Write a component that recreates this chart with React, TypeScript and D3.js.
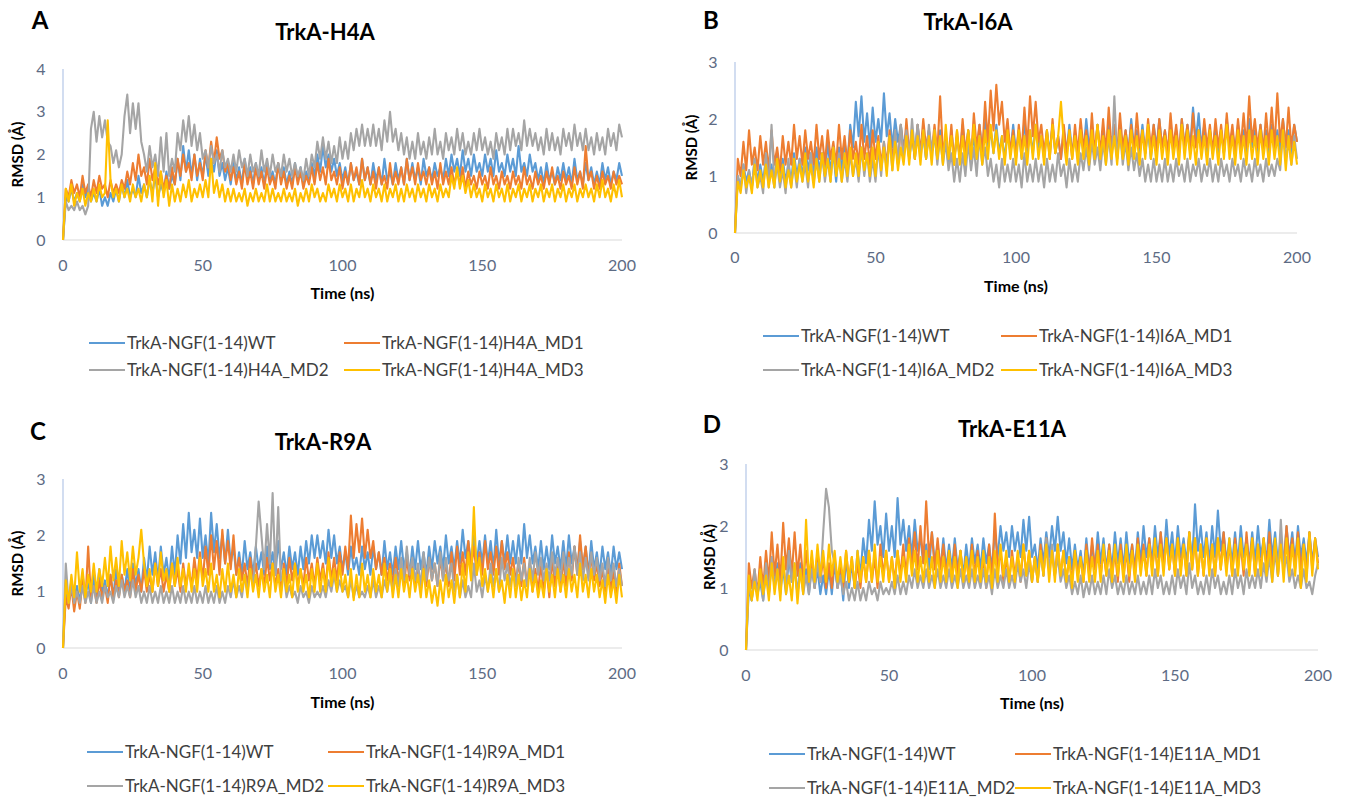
import React from "react";
import * as d3 from "d3";

// RMSD traces, one value per ns (0..200)
const TIME = d3.range(0, 201);
const X_TICKS = [0, 50, 100, 150, 200];
const SERIES_COLORS = ["#5B9BD5", "#ED7D31", "#A5A5A5", "#FFC000"];

// Panel A: TrkA-H4A
const A_WT = [0,
  1.0,0.9,1.2,0.9,1.1,0.9,1.3,1.0,1.2,0.9, 1.1,0.9,1.2,0.8,1.0,0.8,1.1,0.9,1.2,0.9,
  1.3,1.0,1.4,1.0,1.2,1.0,1.5,1.1,1.3,1.0, 1.4,1.1,1.5,1.0,1.3,1.1,1.6,1.2,1.5,1.3,
  1.9,1.4,2.2,1.6,2.1,1.5,2.0,1.4,1.9,1.5, 2.0,1.5,1.9,1.6,2.1,1.5,1.8,1.4,1.7,1.3,
  1.8,1.4,1.7,1.3,1.9,1.4,1.7,1.3,1.8,1.4, 1.7,1.3,1.8,1.4,1.6,1.3,1.8,1.4,1.7,1.3,
  1.6,1.3,1.8,1.4,1.7,1.3,1.6,1.4,1.8,1.5, 2.0,1.6,2.2,1.7,2.0,1.6,1.9,1.5,1.8,1.4,
  1.7,1.3,1.8,1.4,1.6,1.3,1.9,1.4,1.7,1.3, 1.8,1.4,1.7,1.3,1.9,1.4,1.6,1.3,1.8,1.4,
  1.7,1.3,1.9,1.4,1.8,1.4,1.7,1.3,1.9,1.5, 1.7,1.4,1.8,1.5,1.7,1.4,1.9,1.5,2.0,1.6,
  1.9,1.5,2.1,1.6,1.9,1.5,2.0,1.6,1.8,1.5, 2.0,1.6,1.9,1.5,2.1,1.6,1.8,1.5,2.0,1.6,
  1.9,1.5,2.2,1.6,1.8,1.5,2.0,1.6,1.8,1.4, 1.7,1.3,1.8,1.4,1.6,1.3,1.7,1.4,1.8,1.4,
  1.7,1.3,1.9,1.4,1.6,1.3,1.8,1.4,1.7,1.3, 1.6,1.3,1.8,1.4,1.7,1.3,1.6,1.4,1.8,1.5];
const A_MD1 = [0,
  1.2,1.0,1.4,1.1,1.3,1.0,1.5,1.1,1.3,1.0, 1.4,1.1,1.5,1.2,1.3,1.0,1.4,1.1,1.3,1.1,
  1.4,1.2,1.6,1.3,1.8,1.4,2.0,1.5,1.7,1.3, 1.9,1.4,1.7,1.3,1.6,1.2,1.5,1.2,1.7,1.3,
  1.9,1.5,2.0,1.6,1.8,1.4,2.0,1.5,1.8,1.4, 2.1,1.7,2.3,1.8,2.4,1.9,2.1,1.6,1.8,1.4,
  1.7,1.3,1.6,1.2,1.8,1.3,1.6,1.2,1.7,1.3, 1.6,1.2,1.7,1.3,1.5,1.2,1.8,1.3,1.6,1.2,
  1.5,1.2,1.7,1.3,1.6,1.2,1.5,1.3,1.7,1.3, 1.8,1.4,1.7,1.3,1.9,1.4,1.6,1.3,1.7,1.2,
  1.6,1.3,1.8,1.4,1.7,1.3,1.9,1.4,1.7,1.3, 1.6,1.2,1.7,1.3,1.5,1.2,1.8,1.3,1.6,1.3,
  1.7,1.3,1.9,1.4,1.7,1.3,1.8,1.4,1.6,1.3, 1.7,1.3,1.6,1.2,1.8,1.3,1.6,1.3,1.7,1.3,
  1.6,1.3,1.7,1.2,1.6,1.3,1.5,1.2,1.6,1.3, 1.5,1.2,1.7,1.3,1.5,1.2,1.6,1.3,1.5,1.2,
  1.6,1.3,1.5,1.2,1.7,1.3,1.5,1.2,1.6,1.3, 1.5,1.2,1.6,1.3,1.7,1.3,1.5,1.2,1.6,1.3,
  1.5,1.2,1.7,1.3,1.6,1.2,2.2,1.4,1.6,1.2, 1.5,1.2,1.6,1.3,1.5,1.2,1.6,1.3,1.5,1.3];
const A_MD2 = [0,
  0.9,0.7,0.8,0.7,0.9,0.7,0.8,0.6,0.8,2.6, 3.0,2.3,2.9,2.4,2.8,2.3,2.2,1.8,2.1,1.7,
  2.0,2.9,3.4,2.5,3.2,2.6,3.2,2.3,2.0,1.6, 2.2,1.7,2.0,1.5,2.4,1.6,2.5,1.5,1.9,1.6,
  2.5,2.1,2.8,2.3,2.9,2.2,2.7,2.1,2.5,1.9, 2.1,1.7,2.2,1.8,2.0,1.6,2.1,1.7,1.9,1.6,
  2.0,1.6,2.1,1.7,1.9,1.5,2.0,1.6,1.8,1.5, 2.1,1.6,1.9,1.5,2.0,1.6,1.8,1.5,2.0,1.6,
  1.9,1.5,1.8,1.5,1.7,1.4,1.9,1.5,2.0,1.7, 2.3,1.9,2.4,1.9,2.3,1.8,2.2,1.8,2.4,1.9,
  2.3,1.9,2.5,2.1,2.6,2.2,2.7,2.2,2.6,2.2, 2.7,2.2,2.6,2.1,2.8,2.3,3.0,2.3,2.6,2.1,
  2.5,2.0,2.4,1.9,2.3,1.9,2.5,2.0,2.3,1.9, 2.4,2.0,2.6,2.0,2.3,1.9,2.5,2.1,2.4,2.0,
  2.6,2.1,2.5,2.0,2.3,2.0,2.5,2.1,2.6,2.1, 2.4,2.0,2.3,1.9,2.5,2.1,2.4,2.0,2.6,2.1,
  2.6,2.2,2.5,2.1,2.8,2.2,2.6,2.2,2.5,2.1, 2.4,2.0,2.6,2.1,2.5,2.1,2.4,2.0,2.6,2.2,
  2.5,2.1,2.7,2.2,2.5,2.1,2.6,2.1,2.4,2.0, 2.5,2.1,2.4,2.0,2.6,2.2,2.5,2.1,2.7,2.4];
const A_MD3 = [0,
  1.2,0.9,1.3,0.8,1.1,0.9,1.2,0.8,1.1,0.9, 1.2,0.9,1.3,1.0,1.1,2.8,1.4,1.0,1.2,0.9,
  1.3,1.0,1.2,0.9,1.3,1.0,1.2,0.9,1.3,1.0, 1.5,0.9,1.8,0.8,1.6,1.0,1.4,0.8,1.3,0.9,
  1.2,0.9,1.3,1.0,1.4,0.9,1.2,1.0,1.3,1.0, 1.4,1.0,1.9,1.1,1.4,1.0,1.3,0.9,1.2,0.9,
  1.2,0.9,1.1,0.9,1.2,0.8,1.1,0.9,1.2,0.9, 1.1,0.9,1.3,0.9,1.2,0.9,1.1,0.9,1.2,0.9,
  1.1,0.9,1.2,0.8,1.1,0.9,1.2,0.9,1.3,1.0, 1.2,0.9,1.1,0.9,1.3,1.0,1.2,0.9,1.3,1.0,
  1.2,0.9,1.3,0.9,1.2,1.0,1.4,1.0,1.2,0.9, 1.3,1.0,1.2,0.9,1.3,0.9,1.2,1.0,1.3,0.9,
  1.2,0.9,1.3,1.0,1.2,0.9,1.3,1.0,1.2,0.9, 1.3,1.0,1.2,0.9,1.3,1.0,1.2,1.0,1.5,1.2,
  1.7,1.2,1.5,1.1,1.4,1.0,1.3,1.0,1.2,0.9, 1.3,1.0,1.2,0.9,1.3,1.0,1.2,0.9,1.3,0.9,
  1.2,1.0,1.3,0.9,1.2,1.0,1.3,0.9,1.2,1.0, 1.3,0.9,1.2,1.0,1.3,0.9,1.2,1.0,1.3,0.9,
  1.2,1.0,1.3,0.9,1.2,1.0,1.3,1.0,1.2,0.9, 1.3,1.0,1.4,1.0,1.2,0.9,1.3,1.0,1.4,1.0];

// Panel B: TrkA-I6A
const B_WT = [0,
  1.0,0.8,1.2,0.9,1.1,0.8,1.3,0.9,1.2,0.9, 1.3,0.9,1.2,0.8,1.4,1.0,1.3,0.9,1.2,0.9,
  1.4,1.0,1.3,1.0,1.5,1.1,1.4,1.0,1.5,1.1, 1.4,1.0,1.6,1.1,1.4,0.9,1.5,1.1,1.6,1.2,
  1.9,1.5,2.3,1.7,2.4,1.6,2.1,1.5,2.2,1.6, 2.0,1.6,2.45,1.7,2.1,1.5,2.0,1.6,1.9,1.5,
  1.8,1.3,1.7,1.3,1.9,1.4,1.7,1.3,1.8,1.4, 1.7,1.3,1.8,1.4,1.6,1.2,1.8,1.3,1.7,1.3,
  1.9,1.4,1.8,1.3,1.7,1.3,1.9,1.4,2.0,1.5, 1.8,1.4,1.9,1.4,1.7,1.3,1.8,1.4,1.9,1.4,
  1.8,1.3,2.0,1.4,1.8,1.4,1.9,1.5,1.7,1.3, 1.8,1.4,1.9,1.4,1.7,1.3,1.8,1.4,1.9,1.4,
  1.7,1.3,1.8,1.4,2.0,1.5,1.8,1.4,1.9,1.4, 1.8,1.4,1.9,1.4,1.7,1.3,1.9,1.4,1.8,1.4,
  2.0,1.5,1.8,1.4,1.9,1.4,1.8,1.3,1.9,1.5, 2.0,1.5,1.8,1.4,1.9,1.4,1.8,1.4,2.0,1.5,
  1.9,1.5,2.2,1.6,2.1,1.5,1.9,1.4,1.8,1.4, 1.9,1.4,1.8,1.4,2.0,1.5,1.8,1.4,1.9,1.4,
  1.8,1.4,2.0,1.5,1.8,1.4,1.9,1.5,1.8,1.4, 1.9,1.4,1.8,1.4,2.0,1.5,1.8,1.4,1.9,1.6];
const B_MD1 = [0,
  1.3,1.0,1.6,1.1,1.8,1.2,1.5,1.1,1.7,1.2, 1.6,1.1,1.8,1.2,1.5,1.1,1.7,1.2,1.6,1.2,
  1.9,1.3,1.7,1.2,1.8,1.3,1.6,1.2,1.9,1.3, 1.7,1.2,1.8,1.3,1.6,1.2,1.9,1.3,1.7,1.2,
  1.8,1.3,1.6,1.2,1.9,1.3,1.7,1.2,1.8,1.3, 1.7,1.2,1.6,1.2,1.8,1.3,1.7,1.2,1.9,1.3,
  2.0,1.4,1.8,1.3,1.9,1.4,2.0,1.5,1.8,1.4, 1.9,1.4,2.4,1.4,1.7,1.3,1.9,1.2,1.8,1.3,
  2.0,1.4,1.8,1.3,2.1,1.5,1.9,1.4,2.3,1.6, 2.5,1.8,2.6,1.9,2.3,1.6,2.0,1.4,1.8,1.3,
  1.9,1.4,2.2,1.5,2.4,1.7,2.3,1.6,1.9,1.4, 1.8,1.3,2.0,1.4,1.7,1.3,1.9,1.4,1.8,1.3,
  1.9,1.4,2.0,1.5,1.8,1.3,2.1,1.4,1.9,1.4, 2.0,1.4,2.2,1.5,1.9,1.4,2.1,1.5,1.8,1.4,
  1.9,1.4,2.1,1.5,1.8,1.4,2.0,1.5,1.9,1.4, 2.0,1.5,1.8,1.4,2.1,1.5,1.9,1.4,2.0,1.5,
  1.9,1.4,2.1,1.5,1.8,1.4,2.0,1.5,1.9,1.4, 2.0,1.5,1.9,1.4,2.1,1.5,1.9,1.4,2.0,1.5,
  2.1,1.5,2.4,1.6,2.0,1.5,1.9,1.4,2.1,1.5, 2.2,1.5,2.45,1.6,2.0,1.5,2.2,1.5,1.9,1.6];
const B_MD2 = [0,
  1.0,0.8,1.2,0.7,1.1,0.8,1.3,0.8,1.0,0.7, 1.4,0.8,1.9,0.9,1.2,0.8,1.1,0.7,1.3,0.8,
  1.2,0.8,1.3,0.9,1.2,0.8,1.4,0.9,1.3,0.9, 1.4,0.9,1.3,0.9,1.5,1.0,1.4,0.9,1.3,0.9,
  1.4,1.0,1.3,0.9,1.5,1.0,1.4,0.9,1.3,0.9, 1.5,1.0,1.6,1.1,1.7,1.1,1.8,1.2,1.9,1.3,
  1.8,1.3,2.0,1.4,1.9,1.3,1.8,1.3,1.9,1.4, 1.8,1.2,1.7,1.2,1.6,1.1,1.4,0.9,1.3,0.9,
  1.4,1.0,1.6,1.1,1.5,1.0,1.7,1.2,1.5,1.0, 1.3,0.9,1.2,0.8,1.3,0.9,1.2,0.9,1.3,0.9,
  1.2,0.8,1.4,0.9,1.2,0.9,1.3,0.9,1.2,0.8, 1.3,0.9,1.2,0.9,1.4,1.0,1.2,0.8,1.3,0.9,
  1.2,0.9,1.4,1.1,1.5,1.1,1.6,1.2,1.5,1.1, 1.6,1.2,1.7,1.2,2.4,1.3,1.8,1.2,1.6,1.1,
  1.5,1.1,1.4,1.0,1.3,0.9,1.2,0.9,1.3,0.9, 1.2,0.9,1.3,0.9,1.2,0.9,1.3,1.0,1.2,0.9,
  1.3,0.9,1.2,1.0,1.3,0.9,1.2,1.0,1.3,0.9, 1.2,0.9,1.3,1.0,1.2,0.9,1.3,1.0,1.2,0.9,
  1.3,1.0,1.2,0.9,1.3,1.0,1.2,0.9,1.3,1.0, 1.2,1.0,1.3,1.1,1.8,1.3,1.6,1.2,1.7,1.3];
const B_MD3 = [0,
  0.9,0.7,1.1,0.8,1.0,0.7,1.2,0.8,1.1,0.8, 1.2,0.8,1.1,0.8,1.3,0.9,1.2,0.8,1.1,0.8,
  1.3,0.9,1.2,0.9,1.4,0.9,1.2,0.8,1.3,0.9, 1.4,1.0,1.3,0.9,1.5,1.0,1.3,0.9,1.4,1.0,
  1.5,1.0,1.4,1.0,1.5,1.1,1.4,1.0,1.5,1.0, 1.6,1.1,1.5,1.0,1.7,1.1,1.6,1.1,1.5,1.2,
  1.7,1.2,1.8,1.3,1.7,1.2,1.8,1.3,1.7,1.2, 1.8,1.3,1.7,1.2,1.9,1.3,1.7,1.2,1.8,1.2,
  1.7,1.2,1.8,1.3,1.9,1.3,1.7,1.2,1.8,1.3, 1.9,1.4,1.8,1.3,1.7,1.2,1.8,1.3,1.7,1.2,
  1.8,1.3,1.7,1.2,1.8,1.3,1.9,1.3,1.7,1.2, 1.8,1.3,1.9,1.4,1.7,2.3,1.6,1.2,1.8,1.3,
  1.7,1.2,1.8,1.3,1.7,1.2,1.8,1.3,1.9,1.3, 1.7,1.2,1.8,1.3,1.7,1.2,1.8,1.3,1.7,1.2,
  1.8,1.3,1.7,1.2,1.8,1.3,1.9,1.3,1.7,1.2, 1.8,1.3,1.7,1.2,1.8,1.3,1.7,1.2,1.9,1.3,
  1.8,1.3,1.7,1.2,1.8,1.3,1.7,1.2,1.8,1.3, 1.7,1.2,1.8,1.3,1.9,1.3,1.7,1.2,1.8,1.3,
  1.7,1.2,1.8,1.3,1.7,1.2,1.8,1.3,1.7,1.2, 1.8,1.3,1.7,1.2,1.8,1.1,1.7,1.2,1.6,1.2];

// Panel C: TrkA-R9A
const C_WT = [0,
  1.1,0.8,1.2,0.9,1.1,0.8,1.3,0.9,1.2,0.8, 1.3,0.9,1.4,1.0,1.2,0.9,1.3,0.9,1.4,1.0,
  1.3,1.0,1.4,1.0,1.5,1.1,1.4,1.0,1.6,1.2, 1.8,1.3,1.7,1.2,1.8,1.3,1.6,1.2,1.8,1.3,
  2.0,1.5,2.2,1.6,2.4,1.7,2.1,1.6,2.3,1.6, 2.0,1.5,2.4,1.7,2.2,1.6,2.0,1.5,2.1,1.5,
  1.8,1.3,1.7,1.3,1.9,1.4,1.7,1.3,1.8,1.4, 1.7,1.3,1.8,1.4,1.7,1.3,1.9,1.4,1.7,1.3,
  1.8,1.4,1.7,1.3,1.8,1.4,1.9,1.5,2.0,1.6, 2.0,1.6,1.9,1.5,2.1,1.6,2.0,1.5,1.8,1.4,
  1.7,1.3,1.8,1.4,1.6,1.3,1.8,1.4,1.7,1.3, 1.8,1.4,1.7,1.3,1.9,1.4,1.7,1.3,1.8,1.4,
  1.9,1.4,1.7,1.3,1.8,1.4,1.9,1.4,1.7,1.3, 1.8,1.4,1.9,1.5,1.8,1.4,2.0,1.5,1.8,1.4,
  1.9,1.5,2.1,1.6,1.9,1.5,2.0,1.5,1.9,1.5, 2.0,1.5,1.9,1.4,2.1,1.5,1.9,1.5,2.0,1.5,
  1.9,1.5,2.0,1.5,2.2,1.6,2.0,1.5,1.8,1.4, 1.9,1.4,1.8,1.4,2.0,1.5,1.8,1.4,1.9,1.4,
  2.0,1.5,1.8,1.4,1.9,1.4,1.8,1.3,1.9,1.4, 1.7,1.3,1.8,1.4,1.7,1.3,1.8,1.4,1.7,1.4];
const C_MD1 = [0,
  0.9,0.7,1.1,0.65,1.0,0.7,1.2,0.8,1.8,0.9, 1.1,0.8,1.2,0.9,1.1,0.8,1.3,0.9,1.2,0.9,
  1.3,1.0,1.2,0.9,1.4,1.0,1.3,1.0,1.4,1.0, 1.3,1.0,1.5,1.1,1.4,1.0,1.3,1.0,1.5,1.1,
  1.4,1.0,1.5,1.1,1.4,1.1,1.6,1.2,1.7,1.2, 1.8,1.3,2.0,1.4,1.9,1.3,2.1,1.5,1.9,1.4,
  2.0,1.3,1.6,1.2,1.5,1.1,1.6,1.2,1.5,1.1, 1.4,1.1,1.6,1.2,1.5,1.1,1.4,1.0,1.5,1.1,
  1.6,1.2,1.5,1.1,1.4,1.1,1.6,1.2,1.5,1.1, 1.6,1.2,1.5,1.1,1.7,1.2,1.6,1.2,1.7,1.3,
  1.8,1.4,2.35,1.6,2.2,1.7,2.3,1.6,2.1,1.6, 1.9,1.4,1.7,1.3,1.6,1.2,1.5,1.1,1.6,1.2,
  1.5,1.1,1.6,1.2,1.5,1.1,1.4,1.0,1.5,1.1, 1.6,1.2,1.5,1.1,1.6,1.2,1.5,1.1,1.7,1.2,
  1.8,1.3,1.7,1.3,1.9,1.4,1.8,1.3,1.7,1.3, 1.9,1.4,1.7,1.3,1.8,1.3,1.9,1.4,1.7,1.3,
  1.6,1.2,1.5,1.1,1.6,1.1,1.5,1.0,1.4,1.0, 1.5,1.0,1.4,0.9,1.6,1.1,1.5,1.0,1.6,1.1,
  1.7,1.2,1.8,1.3,2.0,1.4,1.8,1.3,1.6,1.2, 1.5,1.1,1.4,1.0,1.5,1.0,1.4,0.9,1.5,1.1];
const C_MD2 = [0,
  1.5,0.8,1.1,0.8,1.0,0.8,1.1,0.8,1.0,0.8, 1.1,0.8,1.0,0.8,1.1,0.9,1.0,0.8,1.1,0.9,
  1.2,0.9,1.1,0.9,1.2,0.9,1.1,0.8,1.0,0.8, 1.1,0.8,1.0,0.8,1.1,0.8,1.0,0.8,1.1,0.8,
  1.0,0.8,1.1,0.8,1.0,0.8,1.1,0.8,1.0,0.8, 1.1,0.8,1.0,0.8,1.1,0.8,1.0,0.8,1.1,0.9,
  1.2,0.9,1.1,0.9,1.3,1.0,1.4,1.1,1.8,2.6, 2.0,1.4,2.2,1.5,2.75,1.3,2.5,1.2,1.3,0.9,
  1.1,0.9,1.0,0.8,1.1,0.9,1.0,0.8,1.1,0.9, 1.0,0.9,1.1,0.9,1.2,1.0,1.3,1.0,1.2,1.0,
  1.1,0.9,1.2,0.9,1.1,0.9,1.0,0.9,1.1,0.9, 1.2,0.9,1.1,0.9,1.2,1.0,1.3,1.0,1.4,1.1,
  1.6,1.2,1.8,1.3,1.6,1.2,1.5,1.1,1.7,1.2, 1.6,1.2,1.5,1.1,1.7,1.2,1.6,1.2,1.5,1.0,
  1.3,0.9,1.2,0.9,1.1,0.9,1.5,1.0,1.2,0.9, 1.3,1.0,1.5,1.1,1.4,1.0,1.6,1.2,1.5,1.1,
  1.4,1.1,1.6,1.2,1.5,1.1,1.6,1.2,1.7,1.3, 1.6,1.2,1.5,1.2,1.7,1.3,1.6,1.2,1.7,1.3,
  1.6,1.3,1.8,1.3,1.7,1.2,1.6,1.2,1.7,1.3, 1.6,1.2,1.5,1.1,1.6,1.2,1.5,1.1,1.4,1.1];
const C_MD3 = [0,
  1.2,0.8,1.3,0.9,1.7,1.0,1.4,0.9,1.3,1.0, 1.5,1.0,1.4,1.1,1.6,1.1,1.8,1.2,1.6,1.1,
  1.9,1.3,1.7,1.2,1.8,1.3,1.6,2.1,1.5,1.1, 1.4,1.0,1.5,1.1,1.7,1.2,1.4,1.0,1.5,1.1,
  1.6,1.1,1.4,1.0,1.5,1.0,1.4,1.0,1.6,1.1, 1.4,1.0,1.5,1.0,1.3,0.9,1.4,1.0,1.5,1.0,
  1.3,0.9,1.4,1.0,1.3,0.9,1.4,1.0,1.3,0.9, 1.4,1.0,1.3,0.9,1.5,1.0,1.3,0.9,1.4,1.0,
  1.3,0.9,1.5,1.0,1.4,1.0,1.3,0.9,1.4,1.0, 1.5,1.0,1.4,1.0,1.6,1.1,1.4,1.0,1.5,1.0,
  1.3,0.9,1.4,0.85,1.3,0.9,1.5,1.0,1.3,0.9, 1.4,1.0,1.3,0.9,1.5,1.0,1.4,0.9,1.3,0.9,
  1.4,1.0,1.3,0.9,1.4,1.0,1.3,0.9,1.4,0.9, 1.2,0.8,1.1,0.75,1.2,0.8,1.3,0.9,1.2,0.8,
  1.3,0.9,1.5,1.0,1.7,1.2,2.5,1.3,1.6,1.1, 1.4,1.0,1.3,0.9,1.4,1.0,1.2,0.8,1.3,0.9,
  1.4,0.9,1.3,0.85,1.2,0.9,1.4,1.0,1.3,0.9, 1.2,0.9,1.4,1.0,1.3,0.9,1.4,1.0,1.3,0.9,
  1.4,1.0,1.3,0.9,1.5,1.0,1.3,0.9,1.4,1.0, 1.3,0.9,1.2,0.8,1.3,0.9,1.2,0.8,1.3,0.9];

// Panel D: TrkA-E11A
const D_WT = [0,
  1.0,0.8,1.2,0.9,1.1,0.8,1.3,0.9,1.5,1.0, 1.4,1.0,1.3,0.9,1.5,1.1,1.3,0.9,1.4,1.0,
  1.3,0.9,1.4,1.0,1.3,0.9,1.2,0.9,1.3,0.9, 1.4,1.0,1.3,0.8,1.5,1.0,1.4,1.0,1.6,1.2,
  1.8,1.4,2.1,1.6,2.4,1.7,2.0,1.5,2.2,1.6, 2.0,1.5,2.45,1.7,2.1,1.6,2.0,1.5,2.1,1.6,
  1.8,1.4,1.7,1.3,1.9,1.4,1.7,1.3,1.8,1.3, 1.7,1.3,1.8,1.3,1.6,1.2,1.7,1.3,1.8,1.4,
  1.7,1.3,1.8,1.4,1.7,1.3,1.9,1.5,2.0,1.6, 1.9,1.5,2.0,1.6,1.9,1.5,2.1,1.6,2.15,1.5,
  1.7,1.3,1.8,1.4,1.9,1.5,2.0,1.6,2.15,1.6, 1.9,1.4,1.8,1.3,1.7,1.3,1.6,1.2,1.8,1.3,
  1.7,1.3,1.9,1.4,1.8,1.3,1.7,1.3,1.9,1.4, 1.8,1.3,1.9,1.4,1.7,1.3,1.9,1.4,2.0,1.5,
  1.8,1.4,2.0,1.5,1.9,1.4,2.1,1.5,1.9,1.4, 2.0,1.5,1.8,1.4,1.9,1.4,2.35,1.6,2.0,1.5,
  1.9,1.4,2.0,1.5,2.25,1.6,1.9,1.4,1.8,1.4, 1.9,1.4,2.0,1.5,1.8,1.4,1.9,1.4,2.0,1.5,
  1.8,1.4,2.1,1.5,1.9,1.4,1.8,1.4,2.0,1.5, 1.9,1.4,2.0,1.5,1.8,1.4,1.9,1.4,1.8,1.5];
const D_MD1 = [0,
  1.4,1.0,1.3,0.9,1.5,1.0,1.6,1.1,1.9,1.2, 1.7,1.1,2.05,1.3,1.8,1.2,1.9,1.2,1.7,1.1,
  1.6,1.1,1.5,1.0,1.6,1.1,1.5,1.0,1.4,1.0, 1.5,1.0,1.4,1.0,1.6,1.1,1.5,1.0,1.4,1.0,
  1.5,1.1,1.6,1.1,1.5,1.0,1.7,1.2,1.6,1.1, 1.5,1.1,1.6,1.2,1.7,1.2,1.8,1.3,1.9,1.3,
  2.0,1.4,2.4,1.5,1.9,1.3,1.8,1.3,1.7,1.2, 1.6,1.1,1.7,1.2,1.6,1.1,1.5,1.1,1.7,1.2,
  1.6,1.1,1.5,1.0,1.7,1.1,2.2,1.3,1.6,1.1, 1.5,1.1,1.6,1.2,1.5,1.1,1.7,1.2,1.6,1.1,
  1.5,1.1,1.7,1.2,1.8,1.3,1.6,1.2,1.7,1.2, 1.6,1.1,1.5,1.1,1.6,1.2,1.5,1.1,1.7,1.2,
  1.8,1.3,1.7,1.2,1.6,1.2,1.7,1.2,1.6,1.1, 1.7,1.2,1.6,1.1,1.7,1.2,1.8,1.3,1.7,1.2,
  1.8,1.3,1.7,1.2,1.9,1.3,1.8,1.3,1.7,1.2, 1.8,1.3,1.7,1.2,1.9,1.3,1.8,1.2,1.7,1.2,
  1.8,1.3,1.7,1.2,1.8,1.3,1.9,1.3,1.7,1.2, 1.8,1.3,1.7,1.2,1.9,1.3,1.8,1.2,1.7,1.3,
  1.8,1.3,1.9,1.3,1.7,1.2,1.8,1.3,2.0,1.4, 1.8,1.3,1.9,1.3,1.7,1.2,1.9,1.3,1.8,1.4];
const D_MD2 = [0,
  1.1,0.8,1.3,0.9,1.2,0.8,1.4,0.9,1.5,1.0, 1.3,0.9,1.4,1.0,1.6,1.1,1.4,0.9,1.3,0.9,
  1.2,0.9,1.3,1.0,1.4,1.1,1.9,2.6,2.3,1.6, 1.4,1.0,1.2,0.9,1.1,0.8,1.0,0.8,1.1,0.8,
  1.0,0.8,1.1,0.9,1.0,0.8,1.1,0.9,1.0,0.9, 1.1,0.9,1.2,0.9,1.1,0.9,1.2,1.0,1.3,1.0,
  1.2,1.0,1.3,1.0,1.2,1.0,1.3,1.0,1.2,1.0, 1.3,1.0,1.2,1.0,1.3,1.0,1.2,1.0,1.3,1.0,
  1.2,1.0,1.3,1.0,1.2,0.9,1.3,1.0,1.2,1.0, 1.3,1.0,1.2,1.0,1.4,1.1,1.3,1.0,1.4,1.1,
  1.5,1.1,1.6,1.2,1.8,1.3,1.7,1.2,1.5,1.1, 1.3,1.0,1.2,0.9,1.1,0.9,1.2,0.85,1.1,0.9,
  1.2,0.9,1.1,0.9,1.2,0.9,1.3,1.0,1.2,0.9, 1.1,0.9,1.2,0.9,1.1,0.9,1.2,0.9,1.1,0.9,
  1.2,0.9,1.3,1.0,1.2,0.9,1.1,0.9,1.2,0.9, 1.3,1.0,1.2,0.9,1.4,1.0,1.2,0.9,1.1,0.9,
  1.2,0.9,1.3,1.0,1.2,0.9,1.1,0.9,1.2,0.9, 1.3,1.0,1.2,0.9,1.3,1.0,1.2,1.0,1.3,1.0,
  1.4,1.1,1.5,1.1,1.6,1.2,2.1,1.3,1.5,1.1, 1.3,1.0,1.2,1.0,1.3,1.0,1.1,0.9,1.2,1.4];
const D_MD3 = [0,
  1.2,0.8,1.1,0.8,1.3,0.9,1.2,0.8,1.4,0.9, 1.3,0.8,1.5,0.9,1.2,0.8,1.4,0.75,1.3,0.9,
  2.1,1.1,1.6,1.1,1.7,1.2,1.6,1.1,1.7,1.2, 1.6,1.1,1.5,1.1,1.6,1.1,1.5,1.0,1.6,1.1,
  1.5,1.1,1.6,1.1,1.7,1.1,1.5,1.1,1.6,1.1, 1.5,1.0,1.6,1.1,1.5,1.1,1.7,1.2,1.6,1.1,
  1.5,1.1,1.6,1.1,1.5,1.0,1.6,1.1,1.5,1.1, 1.6,1.1,1.5,1.0,1.6,1.1,1.5,1.1,1.6,1.1,
  1.5,1.1,1.6,1.1,1.5,1.0,1.6,1.1,1.7,1.2, 1.6,1.1,1.5,1.1,1.6,1.2,1.7,1.2,1.6,1.1,
  1.5,1.1,1.6,1.2,1.7,1.1,1.6,1.1,1.7,1.2, 1.6,1.1,1.5,1.0,1.6,1.1,1.5,1.1,1.6,1.1,
  1.5,1.1,1.6,1.1,1.7,1.2,1.6,1.1,1.7,1.2, 1.6,1.1,1.7,1.2,1.6,1.1,1.7,1.2,1.6,1.2,
  1.7,1.2,1.8,1.2,1.7,1.2,1.8,1.3,1.7,1.2, 1.8,1.2,1.7,1.2,1.9,1.3,1.8,1.2,1.7,1.2,
  1.8,1.2,1.7,1.2,1.8,1.3,1.7,1.2,1.8,1.2, 1.7,1.2,1.8,1.3,1.7,1.2,1.8,1.2,1.7,1.2,
  1.8,1.2,1.7,1.1,1.8,1.2,1.7,1.1,1.8,1.2, 1.7,1.2,1.8,1.0,1.7,1.1,1.9,1.2,1.8,1.3];

const FONT = "Lato, 'Open Sans', sans-serif";
const TICK_COLOR = "#5d6b84";

const PANELS = [
  {
    letter: "A", title: "TrkA-H4A", mutant: "H4A", yMax: 4,
    series: [A_WT, A_MD1, A_MD2, A_MD3],
    box: { left: 63, right: 622, top: 69, bottom: 240 },
    letterPos: [40, 29], titleX: 325, titleY: 40, xTickY: 271, xLabelY: 299,
    yLabelX: 18, legendRows: [349, 376], legendCols: [89, 344],
  },
  {
    letter: "B", title: "TrkA-I6A", mutant: "I6A", yMax: 3,
    series: [B_WT, B_MD1, B_MD2, B_MD3],
    box: { left: 735, right: 1297, top: 62, bottom: 233 },
    letterPos: [711, 29], titleX: 968, titleY: 30, xTickY: 263, xLabelY: 292,
    yLabelX: 692, legendRows: [342, 376], legendCols: [763, 1001],
  },
  {
    letter: "C", title: "TrkA-R9A", mutant: "R9A", yMax: 3,
    series: [C_WT, C_MD1, C_MD2, C_MD3],
    box: { left: 63, right: 622, top: 479, bottom: 648 },
    letterPos: [38, 440], titleX: 323, titleY: 450, xTickY: 679, xLabelY: 708,
    yLabelX: 18, legendRows: [758, 792], legendCols: [87, 328],
  },
  {
    letter: "D", title: "TrkA-E11A", mutant: "E11A", yMax: 3,
    series: [D_WT, D_MD1, D_MD2, D_MD3],
    box: { left: 746, right: 1318, top: 464, bottom: 650 },
    letterPos: [712, 433], titleX: 1012, titleY: 437, xTickY: 681, xLabelY: 709,
    yLabelX: 710, legendRows: [760, 794], legendCols: [769, 1015],
  },
];

function Panel({ p }: { p: any }) {
  const { box } = p;
  const x = d3.scaleLinear().domain([0, 200]).range([box.left, box.right]);
  const y = d3.scaleLinear().domain([0, p.yMax]).range([box.bottom, box.top]);
  const line = d3.line<number>().x((_, i) => x(TIME[i])).y((v) => y(v));
  const yTicks = y.ticks(p.yMax);
  const labels = [
    "TrkA-NGF(1-14)WT",
    `TrkA-NGF(1-14)${p.mutant}_MD1`,
    `TrkA-NGF(1-14)${p.mutant}_MD2`,
    `TrkA-NGF(1-14)${p.mutant}_MD3`,
  ];
  const midY = (box.top + box.bottom) / 2;

  return (
    <g>
      <text x={p.letterPos[0]} y={p.letterPos[1]} fontSize={24} fontWeight="bold" textAnchor="middle">{p.letter}</text>
      <text x={p.titleX} y={p.titleY} fontSize={22} fontWeight="bold" textAnchor="middle">{p.title}</text>

      <line x1={box.left} x2={box.right} y1={y(0)} y2={y(0)} stroke="#d9d9d9" strokeWidth={1} />
      <line x1={box.left} x2={box.left} y1={y(p.yMax)} y2={y(0)} stroke="#b4c7e7" strokeWidth={1.2} />

      {yTicks.map((t) => (
        <text key={t} x={box.left - 22} y={y(t) + 5.5} fontSize={16} fill={TICK_COLOR} textAnchor="middle">{t}</text>
      ))}
      {X_TICKS.map((t) => (
        <text key={t} x={x(t)} y={p.xTickY} fontSize={16} fill={TICK_COLOR} textAnchor="middle">{t}</text>
      ))}

      <text x={(box.left + box.right) / 2} y={p.xLabelY} fontSize={16} fontWeight="bold" textAnchor="middle">Time (ns)</text>
      <text transform={`translate(${p.yLabelX},${midY}) rotate(-90)`} fontSize={15} fontWeight="bold" textAnchor="middle" dy="0.35em">RMSD (Å)</text>

      {p.series.map((s: number[], i: number) => (
        <path key={i} d={line(s) || ""} fill="none" stroke={SERIES_COLORS[i]} strokeWidth={2.1} strokeLinejoin="round" />
      ))}

      {labels.map((lab, i) => {
        const lx = p.legendCols[i % 2];
        const ly = p.legendRows[Math.floor(i / 2)];
        return (
          <g key={lab}>
            <line x1={lx} x2={lx + 36} y1={ly - 6} y2={ly - 6} stroke={SERIES_COLORS[i]} strokeWidth={2.2} />
            <text x={lx + 38} y={ly} fontSize={17} fill="#404040">{lab}</text>
          </g>
        );
      })}
    </g>
  );
}

export default function App() {
  return (
    <svg width={1345} height={798} style={{ position: "absolute", left: 0, top: 0, fontFamily: FONT, background: "#fff" }}>
      {PANELS.map((p) => <Panel key={p.letter} p={p} />)}
    </svg>
  );
}
